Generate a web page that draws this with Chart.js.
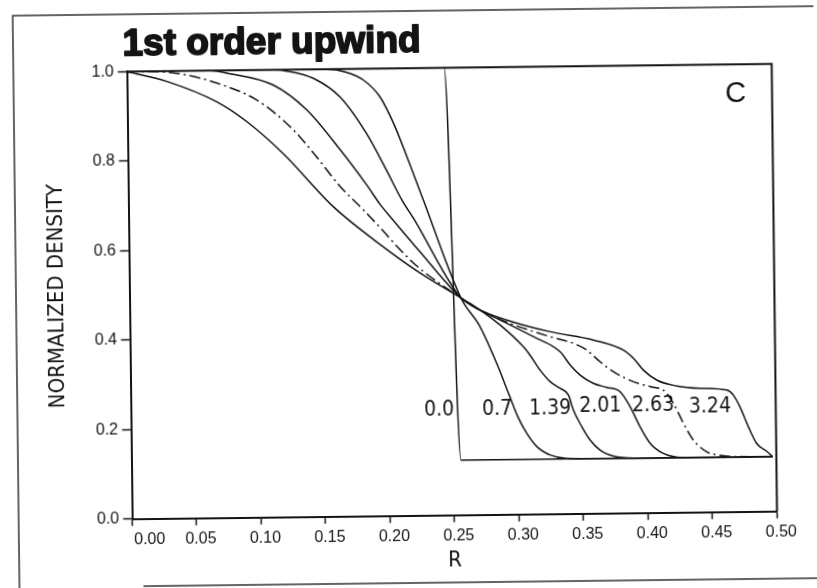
<!DOCTYPE html>
<html>
<head>
<meta charset="utf-8">
<script src="https://cdn.jsdelivr.net/npm/chart.js@4.4.1/dist/chart.umd.min.js"></script>
<style>
  html, body { margin: 0; padding: 0; background: #fff; }
  #wrap { width: 817px; height: 588px; overflow: hidden; background: #fff; }
  /* the printed figure sits slightly tilted on the page */
  #densityChart { transform: rotate(-0.68deg); }
</style>
</head>
<body>
<div id="wrap"><canvas id="densityChart" width="817" height="588"></canvas></div>
<script>
// radius R and normalized density at each time level
const rT000 = [0, 0.246, 0.2555, 0.497];
const dT000 = [1, 1, 0.123, 0.123];

const rT070 = [0, 0.155, 0.170, 0.1833, 0.196, 0.2062, 0.2163, 0.2287, 0.257, 0.2715, 0.2841, 0.294, 0.300, 0.3067, 0.3144, 0.3246, 0.337, 0.355, 0.497];
const dT070 = [1, 1, 0.993, 0.975, 0.937, 0.878, 0.803, 0.705, 0.485, 0.4205, 0.338, 0.263, 0.218, 0.181, 0.151, 0.132, 0.124, 0.123, 0.123];

const rT139 = [0, 0.115, 0.124, 0.1446, 0.1649, 0.1851, 0.200, 0.212, 0.2208, 0.257, 0.264, 0.2871, 0.3049, 0.3099, 0.3176, 0.3254, 0.333, 0.3394, 0.3431, 0.3495, 0.3558, 0.3634, 0.3737, 0.3892, 0.497];
const dT139 = [1, 1, 0.997, 0.98, 0.938, 0.856, 0.775, 0.706, 0.665, 0.485, 0.4731, 0.4238, 0.3746, 0.3559, 0.3221, 0.2957, 0.2807, 0.2655, 0.2318, 0.1942, 0.1643, 0.1417, 0.1279, 0.123, 0.123];

const rT201 = [0, 0.065, 0.0775, 0.1135, 0.139, 0.1649, 0.185, 0.195, 0.2054, 0.2255, 0.257, 0.2665, 0.2872, 0.3128, 0.3333, 0.341, 0.3486, 0.3588, 0.369, 0.3795, 0.3871, 0.3946, 0.4023, 0.4124, 0.4279, 0.497];
const dT201 = [1, 1, 0.994, 0.966, 0.91, 0.819, 0.740, 0.697, 0.66, 0.59, 0.485, 0.4655, 0.435, 0.3967, 0.3624, 0.3325, 0.3099, 0.291, 0.2817, 0.2715, 0.2377, 0.1927, 0.1553, 0.1326, 0.1231, 0.123];

const rT263 = [0, 0.03, 0.046, 0.0696, 0.1006, 0.1287, 0.144, 0.1645, 0.182, 0.1948, 0.2105, 0.2234, 0.257, 0.2691, 0.2948, 0.3257, 0.3437, 0.3539, 0.3642, 0.3745, 0.3899, 0.4053, 0.413, 0.4207, 0.4283, 0.4358, 0.4461, 0.4565, 0.4668, 0.497];
const dT263 = [1, 0.998, 0.991, 0.972, 0.933, 0.865, 0.813, 0.737, 0.685, 0.645, 0.594, 0.557, 0.485, 0.4617, 0.4273, 0.3963, 0.3809, 0.3656, 0.339, 0.3164, 0.2935, 0.2804, 0.2741, 0.2441, 0.1991, 0.1615, 0.135, 0.1266, 0.1234, 0.123];

const rT324 = [0, 0.031, 0.0695, 0.0926, 0.120, 0.1587, 0.197, 0.2255, 0.257, 0.2717, 0.2923, 0.3257, 0.3592, 0.3824, 0.3901, 0.3977, 0.4079, 0.4235, 0.4415, 0.4622, 0.4672, 0.4722, 0.4786, 0.4848, 0.4926, 0.497];
const dT324 = [1, 0.977, 0.930, 0.885, 0.814, 0.693, 0.602, 0.542, 0.485, 0.4579, 0.4348, 0.4075, 0.3878, 0.3644, 0.3458, 0.3193, 0.2966, 0.2827, 0.277, 0.2724, 0.2611, 0.2348, 0.1897, 0.1525, 0.1345, 0.123];

// time labels written next to each front, and where they sit (R, density)
const timeLabels = ['0.0', '0.7', '1.39', '2.01', '2.63', '3.24'];
const labelR = [0.239, 0.284, 0.325, 0.364, 0.405, 0.449];
const labelD = [0.235, 0.234, 0.235, 0.240, 0.2385, 0.235];

const xTicks = [0, 0.05, 0.10, 0.15, 0.20, 0.25, 0.30, 0.35, 0.40, 0.45, 0.50];
const yTicks = [0, 0.2, 0.4, 0.6, 0.8, 1.0];

const ink = '#141414';
const tickFont = { family: '"Liberation Sans", Arial, sans-serif', size: 16 };
const narrow = '"Liberation Sans Narrow", "DejaVu Sans Condensed", "Liberation Sans", sans-serif';

function toPoints(rs, ds) {
    return rs.map((r, i) => ({ x: r, y: ds[i] }));
}

function curve(rs, ds, dash) {
    return {
        data: toPoints(rs, ds),
        borderColor: ink,
        borderWidth: 1.5,
        borderDash: dash || [],
        pointRadius: 0,
        cubicInterpolationMode: 'monotone',
        fill: false
    };
}

// page frame, plot box, title and the annotations
const paperDecor = {
    id: 'paperDecor',
    beforeDraw(chart) {
        const ctx = chart.ctx;
        ctx.save();
        ctx.fillStyle = '#fff';
        ctx.fillRect(0, 0, chart.width, chart.height);
        ctx.strokeStyle = '#333';
        ctx.lineWidth = 1.5;
        ctx.beginPath();
        ctx.moveTo(16, 588);
        ctx.lineTo(16, 11);
        ctx.lineTo(817, 11);
        ctx.moveTo(140, 583);
        ctx.lineTo(817, 583);
        ctx.stroke();
        ctx.restore();
    },
    afterDraw(chart) {
        const ctx = chart.ctx;
        const a = chart.chartArea;
        const xs = chart.scales.x, ys = chart.scales.y;
        ctx.save();
        ctx.strokeStyle = ink;
        ctx.lineWidth = 2;
        ctx.beginPath();
        ctx.moveTo(a.left, a.top);
        ctx.lineTo(a.right, a.top);
        ctx.lineTo(a.right, a.bottom);
        ctx.stroke();

        ctx.fillStyle = ink;
        ctx.textBaseline = 'alphabetic';
        ctx.textAlign = 'left';
        ctx.font = 'bold 37px "Liberation Sans", Arial, sans-serif';
        ctx.lineWidth = 1.8;
        ctx.lineJoin = 'round';
        ctx.fillText('1st order upwind', a.left - 4, a.top - 16);
        ctx.strokeText('1st order upwind', a.left - 4, a.top - 16);

        ctx.textAlign = 'center';
        ctx.textBaseline = 'middle';
        ctx.font = '29px "Liberation Sans", Arial, sans-serif';
        ctx.fillText('C', xs.getPixelForValue(0.4718), ys.getPixelForValue(0.9336));

        ctx.font = '21px ' + narrow;
        timeLabels.forEach((t, i) => {
            ctx.fillText(t, xs.getPixelForValue(labelR[i]), ys.getPixelForValue(labelD[i]));
        });
        ctx.restore();
    }
};

new Chart(document.getElementById('densityChart'), {
    type: 'line',
    data: {
        datasets: [
            curve(rT000, dT000),
            curve(rT070, dT070),
            curve(rT139, dT139),
            curve(rT201, dT201),
            curve(rT263, dT263, [11, 4, 2, 4]),
            curve(rT324, dT324)
        ]
    },
    options: {
        responsive: false,
        animation: false,
        layout: { padding: { top: 68.3, right: 42.6, left: 0, bottom: 0 } },
        plugins: {
            legend: { display: false },
            tooltip: { enabled: false }
        },
        scales: {
            x: {
                type: 'linear',
                min: 0,
                max: 0.5,
                afterBuildTicks: s => { s.ticks = xTicks.map(v => ({ value: v })); },
                afterFit: s => { s.height = 72.3; },
                border: { display: true, color: ink, width: 2 },
                grid: { drawOnChartArea: false, drawTicks: true, tickLength: 7, tickWidth: 1.5, tickColor: ink },
                ticks: {
                    color: ink,
                    font: tickFont,
                    padding: 4,
                    maxRotation: 0,
                    autoSkip: false,
                    labelOffset: 4,
                    callback: v => v === 0 ? '      0.00' : v.toFixed(2)
                },
                title: {
                    display: true,
                    text: 'R',
                    color: ink,
                    font: { family: narrow, size: 22 },
                    padding: { top: 0, bottom: 14 }
                }
            },
            y: {
                type: 'linear',
                min: 0,
                max: 1,
                afterBuildTicks: s => { s.ticks = yTicks.map(v => ({ value: v })); },
                afterFit: s => { s.width = 129.5; },
                border: { display: true, color: ink, width: 2 },
                grid: { drawOnChartArea: false, drawTicks: true, tickLength: 9, tickWidth: 1.5, tickColor: ink },
                ticks: {
                    color: ink,
                    font: tickFont,
                    padding: 4,
                    callback: v => v.toFixed(1)
                },
                title: {
                    display: true,
                    text: 'NORMALIZED DENSITY',
                    color: ink,
                    font: { family: narrow, size: 22 },
                    padding: { top: 44, bottom: 0 }
                }
            }
        }
    },
    plugins: [paperDecor]
});
</script>
</body>
</html>
